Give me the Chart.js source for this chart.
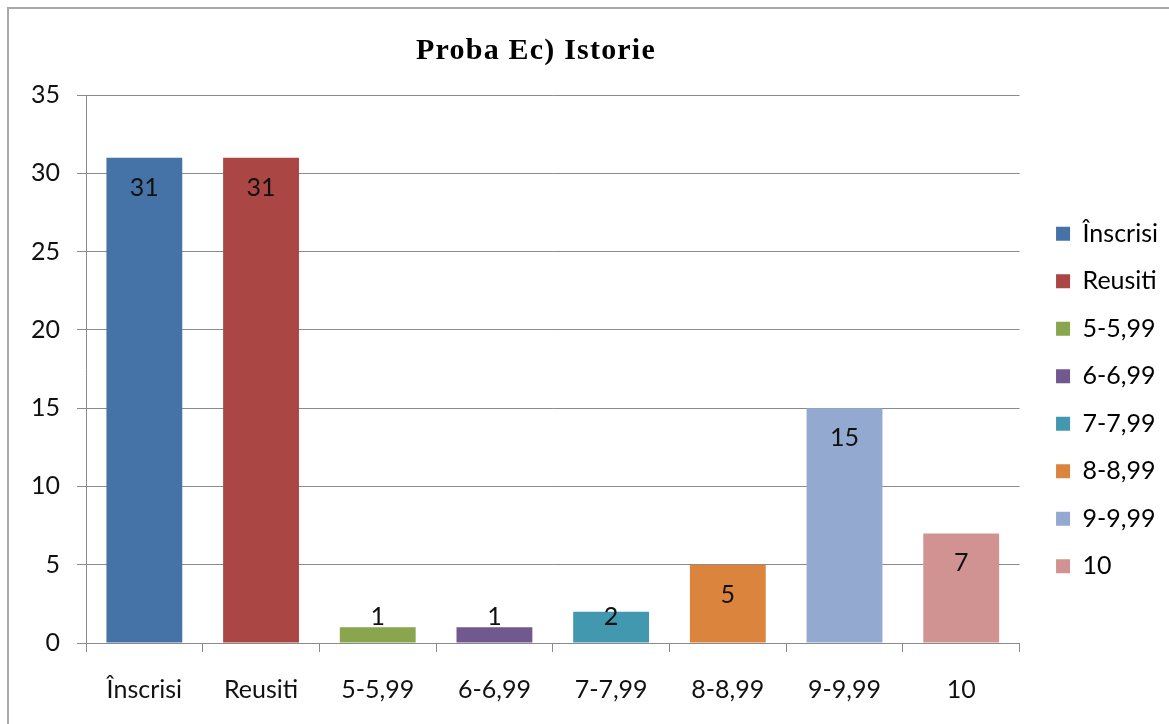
<!DOCTYPE html>
<html>
<head>
<meta charset="utf-8">
<script src="https://cdn.jsdelivr.net/npm/chart.js@4.4.0/dist/chart.umd.min.js"></script>
<style>
  html, body { margin: 0; padding: 0; background: #fff; overflow: hidden; }
  #wrap { position: relative; width: 1169px; height: 724px; }
  #frame { position: absolute; left: 7px; top: 7px; width: 1200px; height: 760px;
           border-left: 2px solid #a9a9a9; border-top: 2px solid #a9a9a9; pointer-events: none; }
</style>
</head>
<body>
<div id="wrap">
  <canvas id="myChart" width="1169" height="724"></canvas>
  <div id="frame"></div>
</div>
<script>
const chartTitle = 'Proba Ec) Istorie';
const labels = ['Înscrisi', 'Reusiti', '5-5,99', '6-6,99', '7-7,99', '8-8,99', '9-9,99', '10'];
const values = [31, 31, 1, 1, 2, 5, 15, 7];
const colors = ['#4572A7', '#AA4643', '#89A54E', '#71588F', '#4198AF', '#DB843D', '#93A9CF', '#D19392'];
const yTicks = [0, 5, 10, 15, 20, 25, 30, 35];

const FONT = 'Lato, "Open Sans", sans-serif';
const FSIZE = 25;

// title drawn a bit left of canvas centre, like the original
const titlePlugin = {
  id: 'titleText',
  afterDraw(chart) {
    const ctx = chart.ctx;
    ctx.save();
    ctx.font = 'bold 30px "Liberation Serif", "DejaVu Serif", serif';
    ctx.letterSpacing = '1.2px';
    ctx.fillStyle = '#000';
    ctx.textAlign = 'center';
    ctx.textBaseline = 'middle';
    ctx.fillText(chartTitle, 536, 51);
    ctx.restore();
  }
};

// value labels inside the bar top (or just above short bars)
const valueLabels = {
  id: 'valueLabels',
  afterDatasetsDraw(chart) {
    const ctx = chart.ctx;
    const meta = chart.getDatasetMeta(0);
    ctx.save();
    ctx.font = FSIZE + 'px ' + FONT;
    ctx.fillStyle = '#111';
    ctx.textAlign = 'center';
    ctx.textBaseline = 'middle';
    meta.data.forEach((bar, i) => {
      let y = Math.min(bar.y + 30, bar.base - 26);
      ctx.fillText(String(values[i]), bar.x, y);
    });
    ctx.restore();
  }
};

const data = {
  labels: labels,
  datasets: [{
    label: chartTitle,
    data: values,
    backgroundColor: colors,
    borderWidth: 0,
    categoryPercentage: 1,
    barPercentage: 0.65
  }]
};

const config = {
  type: 'bar',
  data: data,
  options: {
    responsive: false,
    animation: false,
    layout: { padding: { top: 95, left: 10, right: 1, bottom: 19 } },
    plugins: {
      title: { display: false },
      tooltip: { enabled: false },
      legend: {
        position: 'right',
        labels: {
          boxWidth: 14,
          boxHeight: 14,
          padding: 22.5,
          color: '#111',
          font: { family: FONT, size: FSIZE },
          generateLabels(chart) {
            return labels.map((l, i) => ({
              text: l,
              fillStyle: colors[i],
              strokeStyle: colors[i],
              lineWidth: 0,
              hidden: false,
              index: i
            }));
          }
        }
      }
    },
    scales: {
      x: {
        grid: { drawOnChartArea: false, offset: true, tickLength: 9, color: '#8a8a8a' },
        border: { color: '#8a8a8a', width: 1 },
        ticks: { padding: 23, color: '#111', font: { family: FONT, size: FSIZE }, maxRotation: 0 },
        afterFit(scale) { scale.height = 62; }
      },
      y: {
        min: 0,
        max: 35,
        afterBuildTicks(scale) { scale.ticks = yTicks.map(v => ({ value: v })); },
        grid: { color: '#8a8a8a', tickLength: 9 },
        border: { color: '#8a8a8a', width: 1 },
        ticks: { padding: 17, color: '#111', font: { family: FONT, size: FSIZE } },
        afterFit(scale) { scale.width = 76; }
      },
      // empty axis on the right, only keeps a gap before the legend
      gap: {
        position: 'right',
        display: true,
        grid: { display: false },
        border: { display: false },
        ticks: { display: false },
        afterFit(scale) { scale.width = 14; }
      }
    }
  },
  plugins: [titlePlugin, valueLabels]
};

const myChart = new Chart(document.getElementById('myChart'), config);
</script>
</body>
</html>
